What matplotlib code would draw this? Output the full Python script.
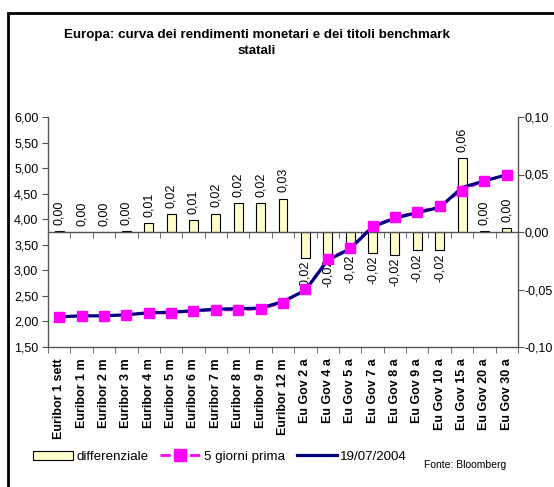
import numpy as np
import matplotlib
matplotlib.use("Agg")
import matplotlib.pyplot as plt
from matplotlib.lines import Line2D
from matplotlib.patches import Patch, Rectangle
from matplotlib.ticker import FuncFormatter, FixedLocator

plt.rcParams['font.family'] = ['Liberation Sans', 'DejaVu Sans']

categorie = ["Euribor 1 sett", "Euribor 1 m", "Euribor 2 m", "Euribor 3 m",
             "Euribor 4 m", "Euribor 5 m", "Euribor 6 m", "Euribor 7 m",
             "Euribor 8 m", "Euribor 9 m", "Euribor 12 m", "Eu Gov 2 a",
             "Eu Gov 4 a", "Eu Gov 5 a", "Eu Gov 7 a", "Eu Gov 8 a",
             "Eu Gov 9 a", "Eu Gov 10 a", "Eu Gov 15 a", "Eu Gov 20 a",
             "Eu Gov 30 a"]
cinque_giorni_prima = [2.09, 2.11, 2.11, 2.13, 2.16, 2.16, 2.20, 2.22, 2.22, 2.24,
                       2.36, 2.63, 3.22, 3.44, 3.87, 4.04, 4.15, 4.25, 4.56, 4.75, 4.87]
rendimenti_oggi = [2.09, 2.11, 2.11, 2.13, 2.17, 2.18, 2.21, 2.24, 2.25, 2.26,
                   2.39, 2.61, 3.20, 3.42, 3.85, 4.02, 4.13, 4.23, 4.62, 4.75, 4.87]
differenziale = [0.001, 0.0, 0.0, 0.001, 0.0075, 0.0156, 0.0104, 0.016, 0.0249, 0.0249,
                 0.029, -0.0225, -0.021, -0.017, -0.0185, -0.0202, -0.016, -0.016,
                 0.064, 0.001, 0.0035]

x = np.arange(len(categorie))
virgola = FuncFormatter(lambda v, pos: f"{v:.2f}".replace('.', ','))
grigio = '#555555'

fig = plt.figure(figsize=(5.54, 4.87), dpi=100)
ax = fig.add_axes([48/554, 1 - 347/487, 470/554, 230/487])
ax2 = ax.twinx()
ax.set_zorder(ax2.get_zorder() + 1)
ax.patch.set_visible(False)

# bars of the spread, right scale
ax2.bar(x, differenziale, width=0.4, color='#FFFFCC', edgecolor='black', linewidth=0.8, zorder=2)
for xi, v in zip(x, differenziale):
    testo = f"{v:.2f}".replace('.', ',')
    if v >= 0:
        ax2.annotate(testo, (xi, v), xytext=(0, 4.5), textcoords='offset points',
                     rotation=90, ha='center', va='bottom', fontsize=9)
    else:
        ax2.annotate(testo, (xi, v), xytext=(0, -2), textcoords='offset points',
                     rotation=90, ha='center', va='top', fontsize=9)
ax2.set_ylim(-0.10, 0.10)
ax2.set_yticks(np.arange(-0.10, 0.101, 0.05))
ax2.yaxis.set_major_formatter(virgola)

# yield curves, left scale
ax.plot(x, cinque_giorni_prima, color='#FF00FF', linestyle='--', linewidth=1.5, zorder=2)
ax.plot(x, rendimenti_oggi, color='#000080', linewidth=2.3, zorder=3)
ax.plot(x, cinque_giorni_prima, color='#FF00FF', linestyle='none', marker='s',
        markersize=7.5, zorder=4)
ax.set_ylim(1.5, 6.0)
ax.set_yticks(np.arange(1.5, 6.01, 0.5))
ax.yaxis.set_major_formatter(virgola)
ax.set_xlim(-0.5, len(categorie) - 0.5)

ax.set_xticks(x)
ax.set_xticklabels(categorie, rotation=90, fontsize=9, fontweight='bold', va='top')
ax.xaxis.set_minor_locator(FixedLocator(np.arange(-0.5, len(categorie), 1.0)))
ax.tick_params(axis='x', which='major', length=0, pad=8)
ax.tick_params(axis='x', which='minor', length=4, direction='out', color=grigio)
ax.tick_params(axis='y', length=4, direction='out', color=grigio, labelsize=9, pad=3)
ax2.tick_params(axis='y', length=4, direction='out', color=grigio, labelsize=9, pad=1)

# horizontal axis crossing at zero of the right scale
ax2.xaxis.set_visible(True)
ax2.spines['bottom'].set_position(('data', 0))
ax2.tick_params(axis='x', which='major', length=0, labelbottom=False)
ax2.tick_params(axis='x', which='minor', length=4, direction='out', color=grigio)

for a in (ax, ax2):
    a.spines['top'].set_visible(False)
    for s in ('left', 'right', 'bottom'):
        a.spines[s].set_color(grigio)
        a.spines[s].set_linewidth(1)
ax.spines['right'].set_visible(False)
ax2.spines['left'].set_visible(False)

fig.text(257/554, 1 - 43/487,
         "Europa: curva dei rendimenti monetari e dei titoli benchmark\nstatali",
         ha='center', va='center', fontsize=9.6, fontweight='bold', linespacing=1.55)

handles = [Patch(facecolor='#FFFFCC', edgecolor='black', linewidth=0.8),
           Line2D([], [], color='#FF00FF', linestyle='--', linewidth=2,
                  marker='s', markersize=8),
           Line2D([], [], color='#000080', linewidth=2.3)]
fig.legend(handles, ["differenziale", "5 giorni prima", "19/07/2004"],
           loc='center left', bbox_to_anchor=(33/554, 1 - 457/487), ncol=3,
           frameon=False, fontsize=9.6, handlelength=3.0, handletextpad=0.25,
           columnspacing=0.9, borderpad=0, borderaxespad=0)
fig.text(424/554, 1 - 465/487, "Fonte: Bloomberg", fontsize=7.5, va='center')

fig.patches.append(Rectangle((8/554, -0.1), 1.2, 1.1 - 13/487, transform=fig.transFigure,
                             fill=False, edgecolor='black', linewidth=2))

fig.savefig("out.png", dpi=100)
